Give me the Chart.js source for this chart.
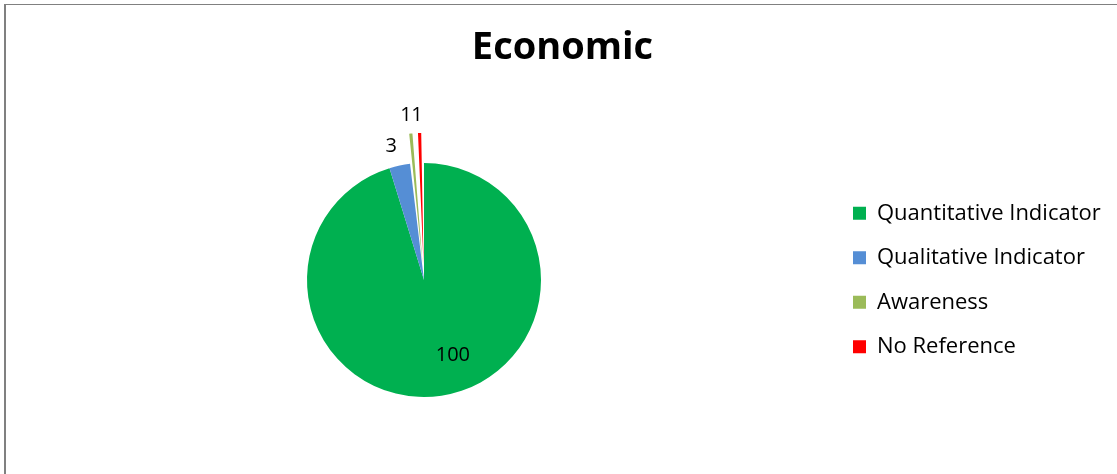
<!DOCTYPE html>
<html><head><meta charset="utf-8">
<script src="https://cdn.jsdelivr.net/npm/chart.js@4.4.1/dist/chart.umd.min.js"></script>
<style>
html,body{margin:0;padding:0;background:#fff;overflow:hidden;width:1117px;height:474px;}
#frame{position:absolute;left:4px;top:4px;width:1200px;height:600px;border-left:2px solid #808080;border-top:1px solid #808080;}
#c{position:absolute;left:0;top:0;}
</style></head><body>
<div id="frame"></div>
<canvas id="c" width="1117" height="500"></canvas>
<script>
const chartTitle = 'Economic';
const categories = ['Quantitative Indicator', 'Qualitative Indicator', 'Awareness', 'No Reference'];
const values = [100, 3, 1, 1];
const sliceColors = ['#00B050', '#558ED5', '#9BBB59', '#FF0000'];
const explodeOffsets = [0, 0, 62, 62];
const labelPlacement = ['inside', 'outside', 'outside', 'outside'];
const labelNudgeX = [17, -4, -3, -2];
const labelNudgeY = [-3, 1, 3, 3];

const FONT = '"Open Sans", sans-serif';

const sliceLabels = {
  id: 'sliceLabels',
  afterDatasetsDraw(chart) {
    const meta = chart.getDatasetMeta(0);
    const ctx = chart.ctx;
    ctx.save();
    ctx.font = '20px ' + FONT;
    ctx.fillStyle = '#000';
    ctx.textAlign = 'center';
    ctx.textBaseline = 'middle';
    meta.data.forEach((arc, i) => {
      const p = arc.getProps(['x', 'y', 'startAngle', 'endAngle', 'outerRadius'], true);
      const mid = (p.startAngle + p.endAngle) / 2;
      let d;
      if (labelPlacement[i] === 'inside') {
        d = p.outerRadius * 0.68;
      } else {
        const shift = (arc.options.offset || 0) / 4;
        const fix = 1 - Math.sin(Math.min(Math.PI, p.endAngle - p.startAngle));
        d = shift + p.outerRadius + shift * fix + 21;
      }
      const lx = p.x + Math.cos(mid) * d + labelNudgeX[i];
      const ly = p.y + Math.sin(mid) * d + labelNudgeY[i];
      ctx.fillText(String(values[i]), lx, ly);
    });
    ctx.restore();
  }
};

new Chart(document.getElementById('c'), {
  type: 'pie',
  data: {
    labels: categories,
    datasets: [{
      data: values,
      backgroundColor: sliceColors,
      borderWidth: 0,
      offset: explodeOffsets,
      hoverOffset: 0
    }]
  },
  options: {
    responsive: false,
    animation: false,
    radius: 117,
    events: [],
    layout: { padding: { left: 17.5, right: 9.5, top: 0, bottom: 10.6 } },
    plugins: {
      tooltip: { enabled: false },
      title: {
        display: true,
        text: chartTitle,
        color: '#000',
        font: { family: FONT, size: 38, weight: 'bold', lineHeight: 1.2 },
        padding: { top: 25, bottom: 0 }
      },
      legend: {
        position: 'right',
        fullSize: false,
        maxWidth: 277,
        labels: {
          color: '#000',
          font: { family: FONT, size: 22 },
          boxWidth: 13,
          boxHeight: 13,
          padding: 22.5
        }
      }
    }
  },
  plugins: [sliceLabels]
});
</script>
</body></html>
